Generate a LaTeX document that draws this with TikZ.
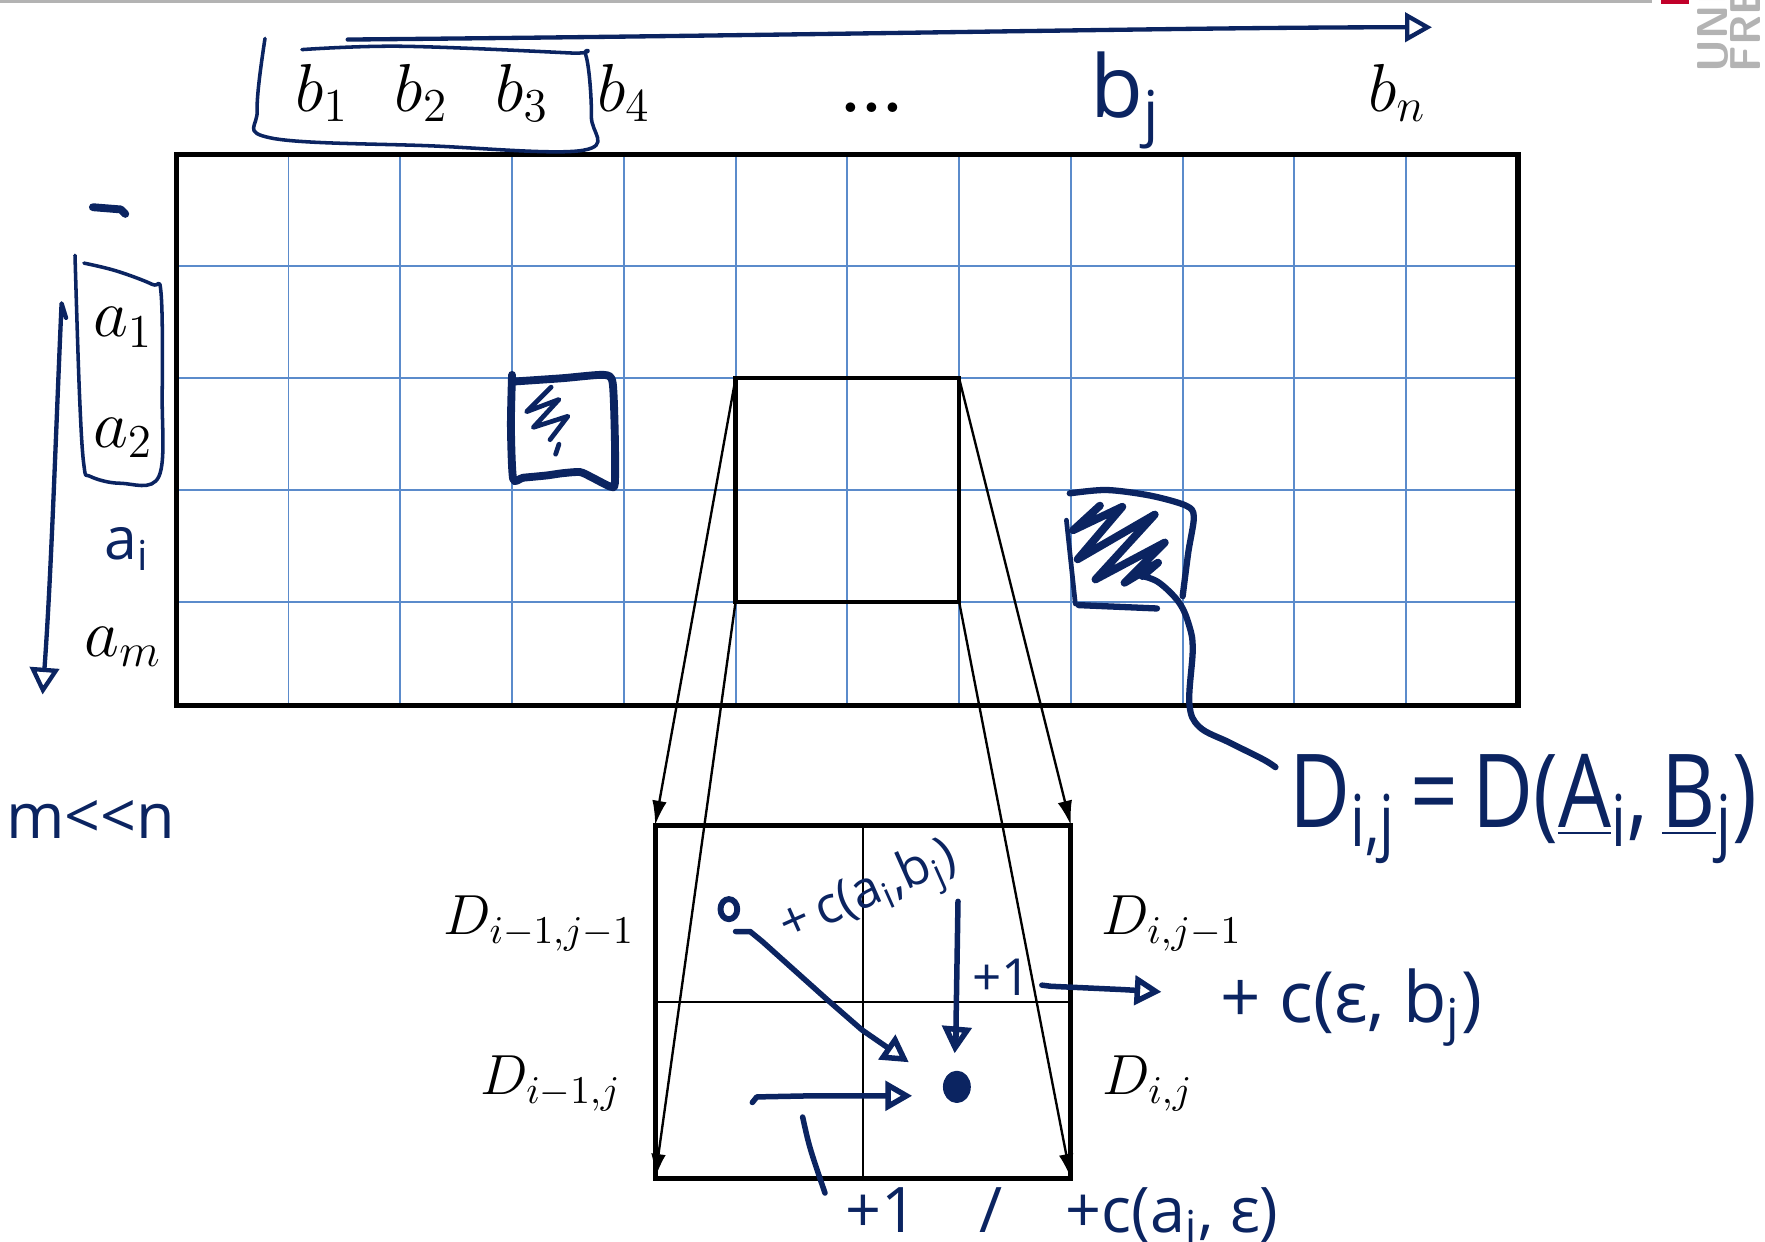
\documentclass[tikz,border=0pt]{standalone}
\usepackage{fontspec}
\usepackage{xcolor}
\usetikzlibrary{arrows.meta}
\newfontfamily\handschrift{Open Sans}
\definecolor{tintenblau}{HTML}{0B2461}
\definecolor{gitterblau}{HTML}{5B8BCB}
\definecolor{logograu}{HTML}{B3B3B3}
\definecolor{logorot}{HTML}{C1002A}

\begin{document}
\begin{tikzpicture}[>=Latex,
  stift/.style={draw=tintenblau, line width=1.4pt, line cap=round, line join=round},
  handpfeil/.style={stift, -{Triangle[open, length=2.4mm, width=2.6mm]}},
  hand/.style={text=tintenblau, inner sep=1pt, font=\handschrift\fontsize{#1}{#1}\selectfont},
  hand/.default=18,
  beschr/.style={inner sep=1pt, font=\fontsize{#1}{#1}\selectfont},
  beschr/.default=18,
  gitter/.style={draw=gitterblau, line width=0.5pt},
  projektion/.style={->, line width=0.6pt, >={Latex[length=2.2mm, width=1.3mm]}}]
  \useasboundingbox (-1.581,-4.794) rectangle (14.21,6.314);

  % Folienrand und Logo
  \draw[logograu, line width=0.6pt] (-1.581,6.30) -- (13.20,6.30);
  \fill[logorot] (13.28,6.28) rectangle (13.53,6.314);
  \node[rotate=90, anchor=base west, inner sep=0, text=logograu,
        font=\sffamily\bfseries\fontsize{11}{11}\selectfont] (logo-uni) at (13.87,5.66) {UNI};
  \node[rotate=90, anchor=base west, inner sep=0, text=logograu,
        font=\sffamily\bfseries\fontsize{11}{11}\selectfont] (logo-fre) at (14.17,5.66) {FRE};

  % Matrix D
  \foreach \x in {1,...,11}
    \draw[gitter] (\x,0) -- (\x,4.93);
  \foreach \y in {0.93,1.93,2.93,3.93}
    \draw[gitter] (0,\y) -- (12,\y);
  \draw[line width=1.3pt] (0,0) rectangle (12,4.93);

  % Spaltenbeschriftung B
  \node[beschr, anchor=base] (b1) at (1.30,5.32) {$b_1$};
  \node[beschr, anchor=base] (b2) at (2.19,5.32) {$b_2$};
  \node[beschr, anchor=base] (b3) at (3.09,5.32) {$b_3$};
  \node[beschr, anchor=base] (b4) at (4.00,5.32) {$b_4$};
  \node[beschr, anchor=base, font=\bfseries\fontsize{17}{17}\selectfont] (bdots) at (6.22,5.31) {...};
  \node[hand=22, anchor=base] (bj) at (8.49,5.26) {b\textsubscript{j}};
  \node[beschr, anchor=base] (bn) at (10.92,5.32) {$b_n$};

  % Zeilenbeschriftung A
  \node[beschr, anchor=base] (a1) at (-0.48,3.30) {$a_1$};
  \node[beschr, anchor=base] (a2) at (-0.48,2.31) {$a_2$};
  \node[hand=15, anchor=base] (ai) at (-0.44,1.31) {a\textsubscript{i}};
  \node[beschr, anchor=base] (am) at (-0.48,0.44) {$a_m$};
  \node[hand=16, anchor=base] (mn) at (-0.77,-1.19) {m<<n};

  % Markierungen an den Rändern
  \draw[stift, line width=0.9pt] plot[smooth, tension=0.6] coordinates {(0.79,5.97) (0.72,5.33)
    (0.84,5.08) (2.25,5.01) (3.64,4.97) (3.71,5.27) (3.66,5.82) (3.52,5.84) (2.01,5.90) (1.12,5.87)};
  \draw[handpfeil, line width=1.1pt] (1.53,5.96) .. controls (6.0,6.00) and (9.0,6.07) .. (11.23,6.07);
  \draw[stift, line width=0.9pt] plot[smooth, tension=0.6] coordinates {(-0.91,4.03) (-0.87,2.79)
    (-0.83,2.15) (-0.77,2.05) (-0.50,1.99) (-0.16,2.05) (-0.13,2.79) (-0.14,3.69) (-0.22,3.77)
    (-0.54,3.89) (-0.83,3.96)};
  \draw[handpfeil, line width=1.1pt] (-0.99,3.47) -- (-1.03,3.60)
    .. controls (-1.08,2.5) and (-1.12,1.2) .. (-1.20,0.10);
  \draw[stift, line width=2pt] (-0.75,4.46) -- (-0.50,4.44) -- (-0.46,4.40);

  % kleines Teilproblem
  \draw[stift, line width=2pt] plot[smooth, tension=0.4] coordinates {(3.01,2.90) (3.45,2.93)
    (3.82,2.96) (3.90,2.89) (3.92,2.40) (3.92,1.99) (3.88,1.96) (3.72,2.04) (3.61,2.09)
    (3.45,2.08) (3.31,2.06) (3.10,2.04) (3.01,2.03) (2.99,2.50) (3.00,2.96)};
  \draw[stift, line width=1.2pt] (3.35,2.85) -- (3.13,2.63) -- (3.42,2.74) -- (3.19,2.49)
    -- (3.50,2.59) -- (3.34,2.38);
  \draw[stift, line width=1.2pt] (3.42,2.34) -- (3.39,2.25);

  % Eintrag D_{i,j}
  \draw[stift, line width=1.6pt] plot[smooth, tension=0.5] coordinates {(7.99,1.90) (8.32,1.93)
    (8.71,1.88) (9.03,1.79) (9.10,1.69) (9.05,1.37) (9.00,0.98)};
  \draw[stift, line width=1.2pt] (7.96,1.66) -- (8.04,0.91);
  \draw[stift, line width=1.6pt] (8.07,0.90) -- (8.77,0.87);
  \draw[stift, line width=2pt] (8.26,1.79) -- (8.02,1.57) -- (8.46,1.78) -- (8.06,1.31)
    -- (8.75,1.71) -- (8.22,1.13) -- (8.84,1.46) -- (8.48,1.10) -- (8.78,1.28) -- (8.64,1.16);
  \node[hand=26, xscale=0.82, anchor=base] (dij) at (12.05,-1.09)
    {D\textsubscript{i,j}\,=\,D(\underline{A}\textsubscript{i},\,\underline{B}\textsubscript{j})};
  \draw[stift, line width=1.6pt] plot[smooth, tension=0.6] coordinates {(8.64,1.16) (8.79,1.10)
    (8.97,0.92) (9.06,0.71) (9.09,0.50) (9.06,0.02) (9.15,-0.19) (9.42,-0.33) (9.72,-0.48) (9.83,-0.55)};

  % Ausschnitt
  \draw[line width=1.1pt] (5,0.93) rectangle (7,2.93);
  \coordinate (hl-nw) at (5,2.93);
  \coordinate (hl-ne) at (7,2.93);
  \coordinate (hl-sw) at (5,0.93);
  \coordinate (hl-se) at (7,0.93);

  % Vergrößerung
  \coordinate (zb-nw) at (4.28,-1.07);
  \coordinate (zb-ne) at (8.00,-1.07);
  \coordinate (zb-sw) at (4.28,-4.23);
  \coordinate (zb-se) at (8.00,-4.23);
  \draw[line width=0.5pt] (6.14,-1.07) -- (6.14,-4.23);
  \draw[line width=0.5pt] (4.28,-2.65) -- (8.00,-2.65);
  \draw[line width=1.3pt] (zb-nw) rectangle (zb-se);
  \draw[projektion] (hl-nw) -- (zb-nw);
  \draw[projektion] (hl-ne) -- (zb-ne);
  \draw[projektion] (hl-sw) -- (zb-sw);
  \draw[projektion] (hl-se) -- (zb-se);

  \node[beschr=14, anchor=base east] (d11) at (4.14,-2.05) {$D_{i-1,j-1}$};
  \node[beschr=14, anchor=base east] (d10) at (4.02,-3.48) {$D_{i-1,j}$};
  \node[beschr=14, anchor=base west] (d01) at (8.23,-2.05) {$D_{i,j-1}$};
  \node[beschr=14, anchor=base west] (d00) at (8.24,-3.48) {$D_{i,j}$};

  % Rekursion
  \draw[stift, line width=1.5pt] (4.94,-1.82) ellipse (0.075 and 0.09);
  \draw[stift, fill=tintenblau] (6.98,-3.41) ellipse (0.1 and 0.12);
  \draw[handpfeil] (5.00,-2.02) -- (5.13,-2.02) -- (5.24,-2.11) -- (5.82,-2.63)
    -- (6.13,-2.90) -- (6.55,-3.19);
  \draw[handpfeil] (6.99,-1.75) -- (6.97,-2.99) -- (6.96,-3.11);
  \draw[handpfeil] (5.15,-3.55) -- (5.19,-3.50) -- (5.69,-3.49) -- (6.58,-3.49);
  \draw[handpfeil] (7.74,-2.50) -- (7.82,-2.51) -- (8.47,-2.54) -- (8.81,-2.56);
  \draw[stift] (5.60,-3.68) .. controls (5.66,-3.95) .. (5.80,-4.36);
  \node[hand=13, rotate=24] (cab) at (6.20,-1.70) {+\,c(a\textsubscript{i},b\textsubscript{j})};
  \node[hand=13] (plus1) at (7.38,-2.43) {+1};
  \node[hand=18, anchor=base] (ceb) at (10.51,-2.83) {+ c(ε, b\textsubscript{j})};
  \node[hand=16, anchor=base] (cae) at (7.92,-4.71) {+1\quad /\quad +c(a\textsubscript{i}, ε)};
\end{tikzpicture}
\end{document}
